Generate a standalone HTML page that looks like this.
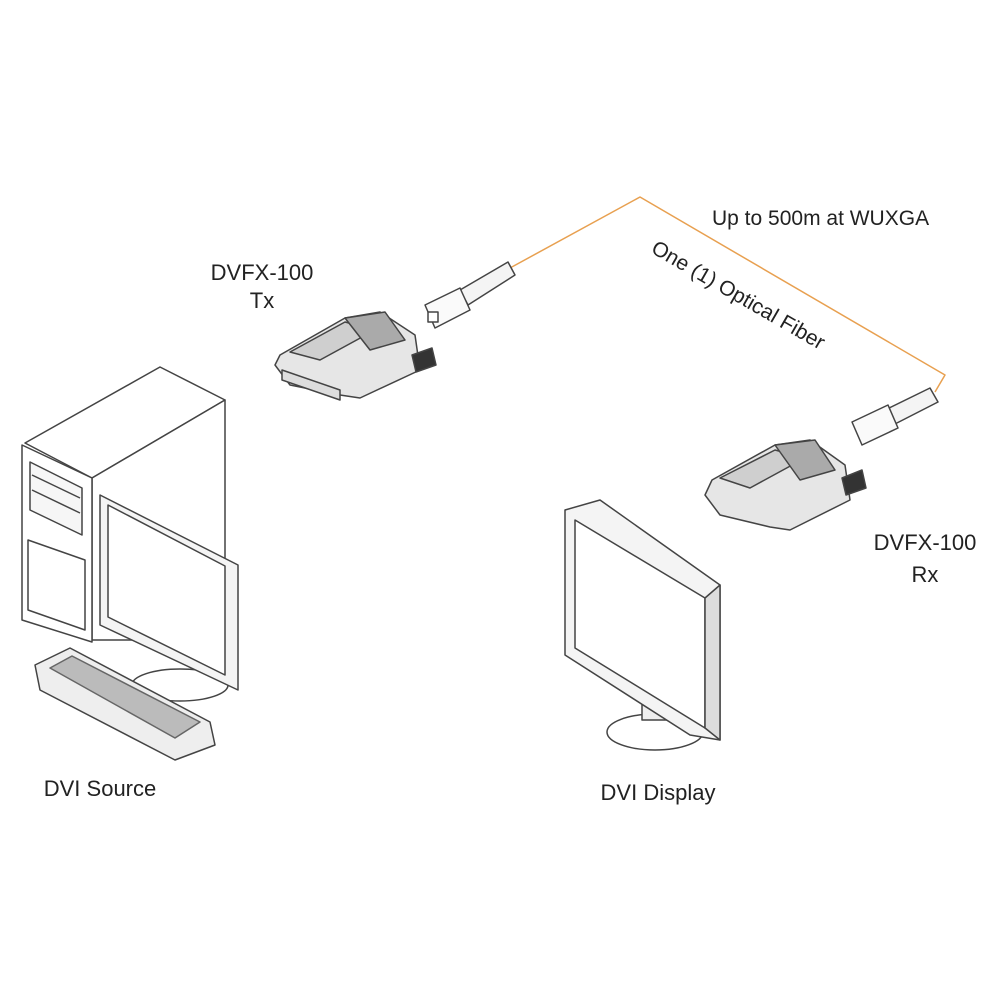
<!DOCTYPE html>
<html><head><style>
html,body{margin:0;padding:0;background:#fff;width:1000px;height:1000px;overflow:hidden}
text{font-family:"Liberation Sans",Arial,sans-serif;fill:#222}
</style></head><body>
<svg width="1000" height="1000" viewBox="0 0 1000 1000" xmlns="http://www.w3.org/2000/svg">
<g stroke="#444" stroke-width="1.5" fill="#fff" stroke-linejoin="round">
<!-- fiber -->
<polyline points="510,268 640,197 945,375 935,392" fill="none" stroke="#e8a050" stroke-width="1.5"/>
<!-- Tx connector -->
<path d="M460,290 L508,262 L515,275 L468,305 Z" fill="#f4f4f4"/>
<path d="M425,305 L460,288 L470,310 L435,328 Z" fill="#fafafa"/>
<rect x="428" y="312" width="10" height="10" fill="#fff"/>
<!-- Tx device -->
<path d="M280,355 L345,318 L380,312 L415,335 L420,370 L360,398 L340,395 L290,385 L275,365 Z" fill="#e6e6e6"/>
<path d="M290,352 L345,322 L375,330 L320,360 Z" fill="#cfcfcf"/>
<path d="M282,370 L340,390 L340,400 L282,380 Z" fill="#ddd"/>
<path d="M345,318 L385,312 L405,340 L370,350 Z" fill="#aaa"/>
<path d="M412,355 L432,348 L436,365 L416,372 Z" fill="#333"/>
<!-- Rx connector -->
<path d="M885,410 L930,388 L938,402 L893,425 Z" fill="#f4f4f4"/>
<path d="M852,422 L888,405 L898,428 L862,445 Z" fill="#fafafa"/>
<!-- Rx device -->
<path d="M712,480 L775,445 L810,440 L845,465 L850,500 L790,530 L770,527 L720,515 L705,495 Z" fill="#e6e6e6"/>
<path d="M720,478 L775,450 L805,458 L750,488 Z" fill="#cfcfcf"/>
<path d="M775,445 L815,440 L835,470 L800,480 Z" fill="#aaa"/>
<path d="M842,478 L862,470 L866,488 L846,495 Z" fill="#333"/>
<!-- tower -->
<path d="M25,443 L160,367 L225,400 L92,478 Z"/>
<path d="M92,478 L225,400 L225,640 L92,640 Z"/>
<path d="M22,445 L92,478 L92,642 L22,620 Z"/>
<path d="M30,462 L82,488 L82,535 L30,510 Z" fill="#f6f6f6"/>
<line x1="32" y1="475" x2="80" y2="498"/><line x1="32" y1="490" x2="80" y2="513"/>
<path d="M28,540 L85,560 L85,630 L28,610 Z"/>
<!-- left monitor -->
<ellipse cx="180" cy="685" rx="48" ry="16"/>
<path d="M100,495 L238,565 L238,690 L100,625 Z" fill="#f4f4f4"/>
<path d="M108,505 L225,566 L225,675 L108,617 Z"/>
<!-- keyboard -->
<path d="M35,665 L70,648 L210,722 L215,745 L175,760 L40,690 Z" fill="#eee"/>
<path d="M50,668 L72,656 L200,722 L175,738 Z" fill="#bbb" stroke="#666"/>
<!-- right monitor -->
<ellipse cx="655" cy="732" rx="48" ry="18"/>
<rect x="642" y="700" width="28" height="20" fill="#eee"/>
<path d="M565,510 L600,500 L720,585 L720,740 L690,735 L565,655 Z" fill="#f4f4f4"/>
<path d="M575,520 L705,598 L705,728 L575,648 Z"/>
<path d="M705,598 L720,585 L720,740 L705,728 Z" fill="#ddd"/>
</g>
<text x="262" y="280" font-size="22" text-anchor="middle">DVFX-100</text>
<text x="262" y="308" font-size="22" text-anchor="middle">Tx</text>
<text x="712" y="225" font-size="21">Up to 500m at WUXGA</text>
<text x="650" y="252" font-size="21" transform="rotate(30 650 252)">One (1) Optical Fiber</text>
<text x="925" y="550" font-size="22" text-anchor="middle">DVFX-100</text>
<text x="925" y="582" font-size="22" text-anchor="middle">Rx</text>
<text x="100" y="796" font-size="22" text-anchor="middle">DVI Source</text>
<text x="658" y="800" font-size="22" text-anchor="middle">DVI Display</text>
</svg>
</body></html>
